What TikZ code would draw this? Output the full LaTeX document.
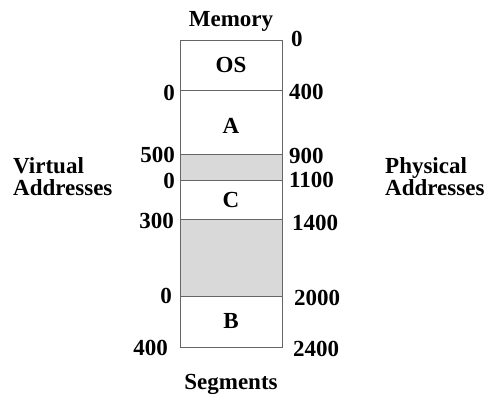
\documentclass[tikz,border=0pt]{standalone}
\usepackage{fontspec}
\setmainfont{Liberation Serif}
\begin{document}
\begin{tikzpicture}[x=1pt,y=-1pt,
  lbl/.style={inner sep=0pt,font=\fontsize{23}{25}\selectfont\bfseries},
  seg/.style={draw=black!60,line width=0.9pt},
  hole/.style={seg,fill=black!15}]
\useasboundingbox (0,0) rectangle (484,396);
% memory column
\draw[seg] (180,40) rectangle (282,90);
\draw[seg] (180,90) rectangle (282,154);
\draw[hole] (180,154) rectangle (282,180);
\draw[seg] (180,180) rectangle (282,219);
\draw[hole] (180,219) rectangle (282,296);
\draw[seg] (180,296) rectangle (282,347);
% titles
\node[lbl,anchor=base] (mem) at (231,27) {Memory};
\node[lbl,anchor=base] (segs) at (231,389) {Segments};
% segment names
\node[lbl,anchor=base] (os) at (231,73) {OS};
\node[lbl,anchor=base] (a) at (231,133) {A};
\node[lbl,anchor=base] (c) at (231,207) {C};
\node[lbl,anchor=base] (b) at (231,328) {B};
% virtual addresses
\node[lbl,anchor=base east] (v1) at (175,100) {0};
\node[lbl,anchor=base east] (v2) at (175,162) {500};
\node[lbl,anchor=base east] (v3) at (175,188) {0};
\node[lbl,anchor=base east] (v4) at (174,228) {300};
\node[lbl,anchor=base east] (v5) at (172,303) {0};
\node[lbl,anchor=base east] (v6) at (168,355) {400};
% physical addresses
\node[lbl,anchor=base west] (p1) at (291,47) {0};
\node[lbl,anchor=base west] (p2) at (289,99) {400};
\node[lbl,anchor=base west] (p3) at (289,163) {900};
\node[lbl,anchor=base west] (p4) at (289,187) {1100};
\node[lbl,anchor=base west] (p5) at (292,230) {1400};
\node[lbl,anchor=base west] (p6) at (294,305) {2000};
\node[lbl,anchor=base west] (p7) at (293,356) {2400};
% side captions
\node[lbl,anchor=base west] (vt1) at (13,173) {Virtual};
\node[lbl,anchor=base west] (vt2) at (13,195) {Addresses};
\node[lbl,anchor=base west] (pt1) at (385,173) {Physical};
\node[lbl,anchor=base west] (pt2) at (385,195) {Addresses};
\end{tikzpicture}
\end{document}
